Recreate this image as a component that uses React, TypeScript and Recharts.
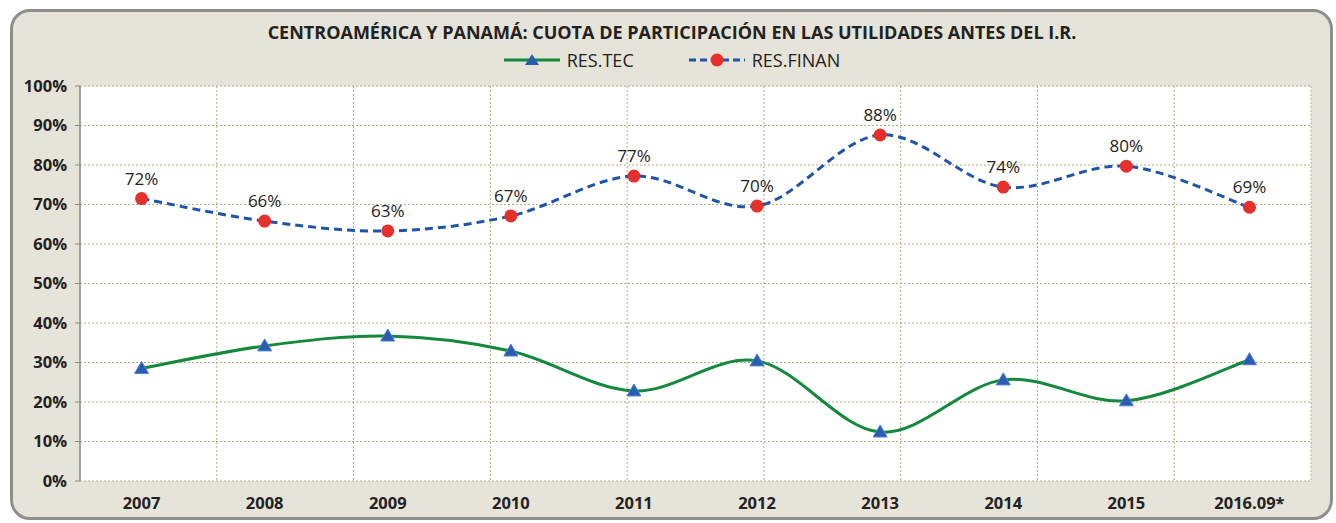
import { CartesianGrid, LabelList, Legend, Line, LineChart, XAxis, YAxis } from 'recharts';

const years = ['2007', '2008', '2009', '2010', '2011', '2012', '2013', '2014', '2015', '2016.09*'];
const resTec = [28.5, 34.2, 36.7, 32.9, 22.8, 30.4, 12.4, 25.6, 20.3, 30.7];
const resFinan = [71.5, 65.8, 63.3, 67.1, 77.2, 69.6, 87.6, 74.4, 79.7, 69.3];
const yTicks = [0, 10, 20, 30, 40, 50, 60, 70, 80, 90, 100];
const bandTicks = [0, 1, 2, 3, 4, 5, 6, 7, 8, 9, 10];

const data = years.map((year, i) => ({ year, tec: resTec[i], finan: resFinan[i] }));

const FONT = '"Open Sans", Lato, sans-serif';
const GREEN = '#14893c';
const BLUE = '#1f55a8';
const RED = '#e5302b';
const TRI = '#2a5db0';
const GRID = '#b3ad82';
const AXIS = '#8c8c8c';

// Excel-style smoothed line (Catmull-Rom through every point)
const excelSmooth = (context: any) => {
    let pts: [number, number][] = [];
    return {
        areaStart() {},
        areaEnd() {},
        lineStart() {
            pts = [];
        },
        point(x: number, y: number) {
            pts.push([+x, +y]);
        },
        lineEnd() {
            const n = pts.length;
            if (!n) return;
            context.moveTo(pts[0][0], pts[0][1]);
            for (let i = 0; i < n - 1; i++) {
                const p0 = pts[Math.max(i - 1, 0)];
                const p1 = pts[i];
                const p2 = pts[i + 1];
                const p3 = pts[Math.min(i + 2, n - 1)];
                context.bezierCurveTo(
                    p1[0] + (p2[0] - p0[0]) / 6,
                    p1[1] + (p2[1] - p0[1]) / 6,
                    p2[0] - (p3[0] - p1[0]) / 6,
                    p2[1] - (p3[1] - p1[1]) / 6,
                    p2[0],
                    p2[1],
                );
            }
        },
    };
};

const Triangle = ({ cx, cy, index }: any) => (
    <polygon
        key={`t-${index}`}
        points={`${cx},${cy - 7} ${cx - 7},${cy + 5} ${cx + 7},${cy + 5}`}
        fill={TRI}
        stroke="#4b80d2"
        strokeWidth={1}
    />
);

const RedDot = ({ cx, cy, index }: any) => <circle key={`c-${index}`} cx={cx} cy={cy} r={6.5} fill={RED} />;

const LegendContent = () => (
    <div style={{ display: 'flex', justifyContent: 'center', alignItems: 'center', fontFamily: FONT, fontSize: 18, color: '#222' }}>
        <span style={{ display: 'flex', alignItems: 'center' }}>
            <svg width={56} height={14}>
                <line x1={0} y1={7} x2={56} y2={7} stroke={GREEN} strokeWidth={3} />
                <polygon points="28,1 21,12 35,12" fill={TRI} />
            </svg>
            <span style={{ marginLeft: 7 }}>RES.TEC</span>
        </span>
        <span style={{ display: 'flex', alignItems: 'center', marginLeft: 55 }}>
            <svg width={56} height={14}>
                <line x1={0} y1={7} x2={56} y2={7} stroke={BLUE} strokeWidth={3} strokeDasharray="7 4" />
                <circle cx={28} cy={7} r={6.5} fill={RED} />
            </svg>
            <span style={{ marginLeft: 7 }}>RES.FINAN</span>
        </span>
    </div>
);

export default function App() {
    return (
        <div style={{ position: 'absolute', left: 0, top: 0, width: 1336, height: 523, fontFamily: FONT }}>
            <div
                style={{
                    position: 'absolute',
                    left: 10,
                    top: 9,
                    width: 1317,
                    height: 505,
                    border: '3px solid #8e8e8e',
                    borderRadius: 20,
                    background: '#e6e3d8',
                }}
            />
            <div
                style={{
                    position: 'absolute',
                    left: 0,
                    top: 20,
                    width: 1344,
                    textAlign: 'center',
                    fontWeight: 700,
                    fontSize: 18,
                    color: '#222',
                }}
            >
                CENTROAMÉRICA Y PANAMÁ: CUOTA DE PARTICIPACIÓN EN LAS UTILIDADES ANTES DEL I.R.
            </div>
            <div style={{ position: 'absolute', left: 0, top: 0 }}>
                <LineChart width={1336} height={523} data={data} margin={{ top: 86, right: 25, bottom: 12, left: 20 }}>
                    <CartesianGrid
                        xAxisId="band"
                        fill="#ffffff"
                        stroke={GRID}
                        strokeDasharray="2 2"
                        horizontalValues={yTicks}
                    />
                    <XAxis
                        xAxisId="band"
                        type="number"
                        domain={[0, 10]}
                        ticks={bandTicks}
                        height={0}
                        axisLine={{ stroke: AXIS, strokeWidth: 1.5 }}
                        tickLine={{ stroke: AXIS }}
                        tickSize={5}
                        tick={() => <g />}
                    />
                    <XAxis
                        xAxisId="cat"
                        dataKey="year"
                        scale="band"
                        height={30}
                        axisLine={false}
                        tickLine={false}
                        tickMargin={10}
                        tick={{ fontSize: 16.5, fontWeight: 700, fill: '#222', fontFamily: FONT }}
                        interval={0}
                    />
                    <YAxis
                        width={60}
                        domain={[0, 100]}
                        ticks={yTicks}
                        tickFormatter={(v) => `${v}%`}
                        axisLine={{ stroke: AXIS, strokeWidth: 1.5 }}
                        tickLine={{ stroke: AXIS }}
                        tickSize={5}
                        tickMargin={8}
                        tick={{ fontSize: 16.5, fontWeight: 700, fill: '#222', fontFamily: FONT }}
                    />
                    <Legend
                        layout="horizontal"
                        verticalAlign="middle"
                        align="center"
                        content={<LegendContent />}
                        wrapperStyle={{ top: 48, left: 0, width: 1344 }}
                    />
                    <Line
                        xAxisId="cat"
                        type={excelSmooth as any}
                        dataKey="tec"
                        stroke={GREEN}
                        strokeWidth={3}
                        dot={Triangle}
                        activeDot={false}
                        isAnimationActive={false}
                    />
                    <Line
                        xAxisId="cat"
                        type={excelSmooth as any}
                        dataKey="finan"
                        stroke={BLUE}
                        strokeWidth={3}
                        strokeDasharray="8 5"
                        dot={RedDot}
                        activeDot={false}
                        isAnimationActive={false}
                    >
                        <LabelList
                            dataKey="finan"
                            position="top"
                            offset={14}
                            formatter={(v: any) => `${Math.round(v)}%`}
                            style={{ fontSize: 17, fill: '#222', fontFamily: FONT }}
                        />
                    </Line>
                </LineChart>
            </div>
        </div>
    );
}
